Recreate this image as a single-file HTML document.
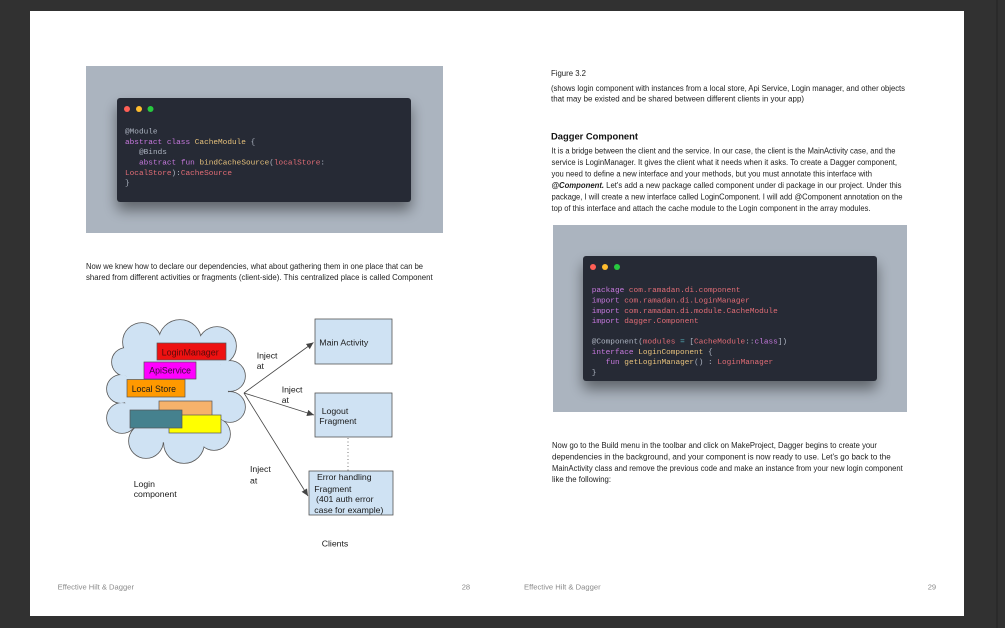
<!DOCTYPE html>
<html><head><meta charset="utf-8"><style>
html,body{margin:0;padding:0;background:#313131;}
svg{display:block;}
.code text{white-space:pre;}
</style></head><body>
<svg width="1005" height="628" viewBox="0 0 1005 628" xmlns="http://www.w3.org/2000/svg">
<defs>
  <filter id="sh" x="-20%" y="-30%" width="140%" height="170%">
    <feGaussianBlur in="SourceAlpha" stdDeviation="7"/>
    <feOffset dy="8"/>
    <feComponentTransfer><feFuncA type="linear" slope="0.45"/></feComponentTransfer>
    <feMerge><feMergeNode/><feMergeNode in="SourceGraphic"/></feMerge>
  </filter>
  <marker id="ah" markerWidth="8" markerHeight="8" refX="7" refY="4" orient="auto" markerUnits="userSpaceOnUse">
    <path d="M0,0.8 L7,4 L0,7.2 z" fill="#444"/>
  </marker>
</defs>
<rect x="0" y="0" width="1005" height="628" fill="#313131"/>
<rect x="996" y="0" width="2" height="628" fill="#2a2a2a"/>
<!-- page -->
<rect x="30" y="11" width="934" height="605" fill="#ffffff"/>

<!-- left code image -->
<rect x="86" y="66" width="357" height="167" fill="#abb4bf"/>
<rect x="117" y="98" width="294" height="104" rx="3" fill="#282c34" filter="url(#sh)"/>
<circle cx="127" cy="109" r="3" fill="#ff5f56"/>
<circle cx="139" cy="109" r="3" fill="#ffbd2e"/>
<circle cx="150.5" cy="109" r="3" fill="#27c93f"/>
<g class="code" font-family="Liberation Mono, DejaVu Sans Mono, monospace" font-size="7.75" fill="#abb2bf">
<text x="125" y="133.6">@Module</text>
<text x="125" y="143.9"><tspan fill="#c678dd">abstract class</tspan> <tspan fill="#e5c07b">CacheModule</tspan> {</text>
<text x="139" y="154.2">@Binds</text>
<text x="139" y="164.5"><tspan fill="#c678dd">abstract fun</tspan> <tspan fill="#e5c07b">bindCacheSource</tspan>(<tspan fill="#e06c75">localStore</tspan>:</text>
<text x="125" y="174.8"><tspan fill="#e06c75">LocalStore</tspan>):<tspan fill="#e06c75">CacheSource</tspan></text>
<text x="125" y="185.1">}</text>
</g>

<!-- left paragraph -->
<g font-family="Liberation Sans, Arial, sans-serif" font-size="7.9" fill="#1e1e1e">
<text x="86" y="268.8" textLength="337" lengthAdjust="spacingAndGlyphs">Now we knew how to declare our dependencies, what about gathering them in one place that can be</text>
<text x="86" y="279.8" textLength="346.7" lengthAdjust="spacingAndGlyphs">shared from different activities or fragments (client-side). This centralized place is called Component</text>
</g>

<!-- cloud -->
<g stroke="#5a5a5a" stroke-width="1.6" fill="#cfe2f3">
  <circle cx="142" cy="342" r="19"/>
  <circle cx="180" cy="341" r="21"/>
  <circle cx="217" cy="346" r="19"/>
  <circle cx="230" cy="376" r="15"/>
  <circle cx="230" cy="407" r="15"/>
  <circle cx="214" cy="434" r="16"/>
  <circle cx="184" cy="443" r="20"/>
  <circle cx="146" cy="441" r="17"/>
  <circle cx="122" cy="418" r="15"/>
  <circle cx="121" cy="389" r="14"/>
  <circle cx="126" cy="362" r="14"/>
</g>
<g fill="#cfe2f3">
  <circle cx="142" cy="342" r="19"/>
  <circle cx="180" cy="341" r="21"/>
  <circle cx="217" cy="346" r="19"/>
  <circle cx="230" cy="376" r="15"/>
  <circle cx="230" cy="407" r="15"/>
  <circle cx="214" cy="434" r="16"/>
  <circle cx="184" cy="443" r="20"/>
  <circle cx="146" cy="441" r="17"/>
  <circle cx="122" cy="418" r="15"/>
  <circle cx="121" cy="389" r="14"/>
  <circle cx="126" cy="362" r="14"/>
  <ellipse cx="176" cy="392" rx="52" ry="52"/>
</g>

<!-- stacked boxes -->
<g stroke="#555" stroke-width="0.7">
  <rect x="157" y="343" width="69" height="17" fill="#ee1111"/>
  <rect x="144" y="362" width="52" height="17" fill="#ff00ff"/>
  <rect x="127" y="379.5" width="58" height="17.5" fill="#ff9900"/>
  <rect x="159" y="401" width="53" height="16" fill="#f6b26b"/>
  <rect x="169" y="415" width="52" height="18" fill="#ffff00"/>
  <rect x="130" y="410" width="52" height="18" fill="#45818e"/>
</g>
<g font-family="Liberation Sans, Arial, sans-serif" font-size="8.8">
  <text x="161.7" y="355.4" fill="#5a0a0a" textLength="57" lengthAdjust="spacingAndGlyphs">LoginManager</text>
  <text x="149.3" y="373.4" fill="#3a0a3a" textLength="41.7" lengthAdjust="spacingAndGlyphs">ApiService</text>
  <text x="131.7" y="391.8" fill="#1a1a1a" textLength="44.3" lengthAdjust="spacingAndGlyphs">Local Store</text>
</g>

<!-- connectors -->
<g stroke="#444" stroke-width="0.8" fill="none">
  <line x1="244" y1="393" x2="313.5" y2="342.5" marker-end="url(#ah)"/>
  <line x1="244" y1="393" x2="314" y2="415" marker-end="url(#ah)"/>
  <line x1="244" y1="393" x2="308" y2="496" marker-end="url(#ah)"/>
</g>
<line x1="348" y1="438" x2="348" y2="471" stroke="#666" stroke-width="0.9" stroke-dasharray="1,2.5"/>

<!-- client boxes -->
<g fill="#cfe2f3" stroke="#555" stroke-width="0.8">
  <rect x="315" y="319" width="77" height="45"/>
  <rect x="315" y="393" width="77" height="44"/>
  <rect x="309" y="471" width="84" height="44"/>
</g>

<g font-family="Liberation Sans, Arial, sans-serif" font-size="8.7" fill="#1a1a1a">
  <text x="319.3" y="345.4" textLength="49" lengthAdjust="spacingAndGlyphs">Main Activity</text>
  <text x="321.7" y="413.8">Logout</text>
  <text x="319.3" y="424.1">Fragment</text>
  <text x="317" y="480.1">Error handling</text>
  <text x="314.3" y="491.8">Fragment</text>
  <text x="316" y="501.8">(401 auth error</text>
  <text x="314.3" y="513.1">case for example)</text>
  <text x="256.7" y="358.4">Inject</text>
  <text x="256.7" y="368.8">at</text>
  <text x="281.7" y="392.4">Inject</text>
  <text x="281.7" y="402.8">at</text>
  <text x="250" y="472.1">Inject</text>
  <text x="250" y="483.4">at</text>
  <text x="133.7" y="487.1">Login</text>
  <text x="133.7" y="497.1">component</text>
  <text x="321.7" y="546.4">Clients</text>
</g>

<!-- right page top text -->
<g font-family="Liberation Sans, Arial, sans-serif" font-size="7.9" fill="#1e1e1e">
<text x="551" y="76" textLength="35" lengthAdjust="spacingAndGlyphs">Figure 3.2</text>
<text x="551" y="91" textLength="354" lengthAdjust="spacingAndGlyphs">(shows login component with instances from a local store, Api Service, Login manager, and other objects</text>
<text x="551" y="101.5" textLength="253" lengthAdjust="spacingAndGlyphs">that may be existed and be shared between different clients in your app)</text>
<text x="551" y="139.5" font-size="9.6" font-weight="bold" fill="#111" textLength="87" lengthAdjust="spacingAndGlyphs">Dagger Component</text>
<text x="551.5" y="153.5" textLength="344" lengthAdjust="spacingAndGlyphs">It is a bridge between the client and the service. In our case, the client is the MainActivity case, and the</text>
<text x="551.5" y="165" textLength="345.5" lengthAdjust="spacingAndGlyphs">service is LoginManager. It gives the client what it needs when it asks. To create a Dagger component,</text>
<text x="551.5" y="176.5" textLength="320.5" lengthAdjust="spacingAndGlyphs">you need to define a new interface and your methods, but you must annotate this interface with</text>
<text x="551.5" y="188" textLength="350" lengthAdjust="spacingAndGlyphs"><tspan font-weight="bold" font-style="italic">@Component.</tspan> Let's add a new package called component under di package in our project. Under this</text>
<text x="551.5" y="199.5" textLength="351" lengthAdjust="spacingAndGlyphs">package, I will create a new interface called LoginComponent. I will add @Component annotation on the</text>
<text x="551.5" y="211" textLength="319" lengthAdjust="spacingAndGlyphs">top of this interface and attach the cache module to the Login component in the array modules.</text>
</g>

<!-- right code image -->
<rect x="553" y="225" width="354" height="187" fill="#abb4bf"/>
<rect x="583" y="256" width="294" height="125" rx="3" fill="#282c34" filter="url(#sh)"/>
<circle cx="593" cy="267" r="3" fill="#ff5f56"/>
<circle cx="605" cy="267" r="3" fill="#ffbd2e"/>
<circle cx="617" cy="267" r="3" fill="#27c93f"/>
<g class="code" font-family="Liberation Mono, DejaVu Sans Mono, monospace" font-size="7.75" fill="#abb2bf">
<text x="591.7" y="292.2"><tspan fill="#c678dd">package</tspan> <tspan fill="#e06c75">com.ramadan.di.component</tspan></text>
<text x="591.7" y="302.5"><tspan fill="#c678dd">import</tspan> <tspan fill="#e06c75">com.ramadan.di.LoginManager</tspan></text>
<text x="591.7" y="312.8"><tspan fill="#c678dd">import</tspan> <tspan fill="#e06c75">com.ramadan.di.module.CacheModule</tspan></text>
<text x="591.7" y="323.1"><tspan fill="#c678dd">import</tspan> <tspan fill="#e06c75">dagger.Component</tspan></text>
<text x="591.7" y="343.5">@Component(<tspan fill="#e06c75">modules</tspan> <tspan fill="#56b6c2">=</tspan> [<tspan fill="#e06c75">CacheModule</tspan>::<tspan fill="#c678dd">class</tspan>])</text>
<text x="591.7" y="353.8"><tspan fill="#c678dd">interface</tspan> <tspan fill="#e5c07b">LoginComponent</tspan> {</text>
<text x="605.7" y="364.1"><tspan fill="#c678dd">fun</tspan> <tspan fill="#e5c07b">getLoginManager</tspan>() : <tspan fill="#e06c75">LoginManager</tspan></text>
<text x="591.7" y="374.4">}</text>
</g>

<!-- right bottom paragraph -->
<g font-family="Liberation Sans, Arial, sans-serif" font-size="7.9" fill="#1e1e1e">
<text x="552" y="447.8" textLength="325" lengthAdjust="spacingAndGlyphs">Now go to the Build menu in the toolbar and click on MakeProject, Dagger begins to create your</text>
<text x="552" y="459.5" textLength="338.7" lengthAdjust="spacingAndGlyphs">dependencies in the background, and your component is now ready to use. Let's go back to the</text>
<text x="552" y="471" textLength="350.7" lengthAdjust="spacingAndGlyphs">MainActivity class and remove the previous code and make an instance from your new login component</text>
<text x="552" y="482" textLength="59" lengthAdjust="spacingAndGlyphs">like the following:</text>
</g>

<!-- footers -->
<g font-family="Liberation Sans, Arial, sans-serif" font-size="7.6" fill="#8a8a8a">
<text x="57.7" y="589.5" textLength="76.3" lengthAdjust="spacingAndGlyphs">Effective Hilt &amp; Dagger</text>
<text x="461.7" y="589.5">28</text>
<text x="524" y="589.5" textLength="76.7" lengthAdjust="spacingAndGlyphs">Effective Hilt &amp; Dagger</text>
<text x="927.7" y="589.5">29</text>
</g>
</svg>
</body></html>
